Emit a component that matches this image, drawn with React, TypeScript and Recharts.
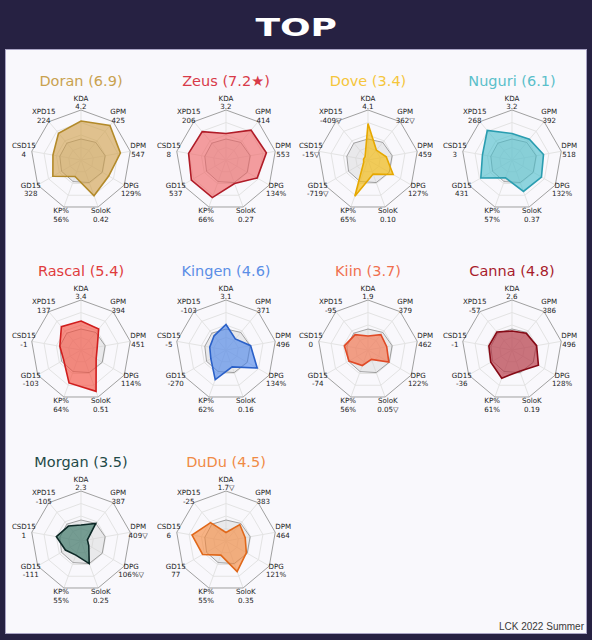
import React from 'react';
import { RadarChart, Radar, PolarGrid, PolarAngleAxis, PolarRadiusAxis } from 'recharts';

// axis order, clockwise from the top
const AXES = ['KDA', 'GPM', 'DPM', 'DPG', 'SoloK', 'KP%', 'GD15', 'CSD15', 'XPD15'];

// league reference polygon (grey)
const AVG = [42, 46, 49, 49, 48, 46, 45, 43, 44];

// normalised scores (0-100) per axis
const DORAN = [78, 90, 80, 64, 76, 35, 65, 57, 70];
const ZEUS = [53, 78, 82, 72, 50, 80, 80, 76, 74];
const DOVE = [73, 26, 37, 58, 30, 77, 10, 9, 9];
const NUGURI = [53, 54, 64, 68, 67, 38, 72, 60, 77];
const RASCAL = [58, 55, 33, 35, 88, 70, 40, 43, 61];
const KINGEN = [51, 29, 50, 72, 36, 63, 35, 33, 37];
const KIIN = [28, 40, 38, 48, 20, 33, 44, 48, 40];
const CANNA = [38, 44, 50, 61, 45, 60, 49, 47, 47];
const MORGAN = [32, 46, 13, 18, 48, 30, 36, 50, 39];
const DUDU = [17, 43, 39, 47, 65, 30, 54, 69, 48];

// printed stat under each axis label
const DORAN_STATS = ['4.2', '425', '547', '129%', '0.42', '56%', '328', '4', '224'];
const ZEUS_STATS = ['3.2', '414', '553', '134%', '0.27', '66%', '537', '8', '206'];
const DOVE_STATS = ['4.1', '362▽', '459', '127%', '0.10', '65%', '-719▽', '-15▽', '-409▽'];
const NUGURI_STATS = ['3.2', '392', '518', '132%', '0.37', '57%', '431', '3', '268'];
const RASCAL_STATS = ['3.4', '394', '451', '114%', '0.51', '64%', '-103', '-1', '137'];
const KINGEN_STATS = ['3.1', '371', '496', '134%', '0.16', '62%', '-270', '-5', '-103'];
const KIIN_STATS = ['1.9', '379', '462', '122%', '0.05▽', '56%', '-74', '0', '-95'];
const CANNA_STATS = ['2.6', '386', '496', '128%', '0.19', '61%', '-36', '-1', '-57'];
const MORGAN_STATS = ['2.3', '387', '409▽', '106%▽', '0.25', '55%', '-111', '1', '-105'];
const DUDU_STATS = ['1.7▽', '383', '464', '121%', '0.35', '55%', '77', '6', '-25'];

const NAMES = ['Doran', 'Zeus', 'Dove', 'Nuguri', 'Rascal', 'Kingen', 'Kiin', 'Canna', 'Morgan', 'DuDu'];
const RATINGS = ['6.9', '7.2★', '3.4', '6.1', '5.4', '4.6', '3.7', '4.8', '3.5', '4.5'];
const SCORES = [DORAN, ZEUS, DOVE, NUGURI, RASCAL, KINGEN, KIIN, CANNA, MORGAN, DUDU];
const STATS = [DORAN_STATS, ZEUS_STATS, DOVE_STATS, NUGURI_STATS, RASCAL_STATS, KINGEN_STATS, KIIN_STATS, CANNA_STATS, MORGAN_STATS, DUDU_STATS];

// title, fill, stroke
const COLORS = [
  ['#c9a24f', '#d1a04a', '#b38a2a'],
  ['#d83a48', '#ef6464', '#b01c28'],
  ['#f5c63c', '#f5b800', '#e6a800'],
  ['#5bbfca', '#4cbfcc', '#2a9db0'],
  ['#e03c3c', '#f54c3a', '#d01e1e'],
  ['#5b8ee6', '#4a84ea', '#2a60c8'],
  ['#f0704f', '#f56e46', '#e04a26'],
  ['#a81c2c', '#b42a38', '#860a16'],
  ['#1f4a48', '#2d6c5c', '#0c2826'],
  ['#f08a45', '#f5883a', '#e0681a'],
];

const COL_X = [81, 226, 368, 512];
const ROW_Y = [160, 350, 541];
const W = 144;
const H = 150;
const R = 50;

const FONT = '"DejaVu Sans", sans-serif';

function AxisTick(props: any) {
  const { x, y, payload, stats } = props;
  const i = AXES.indexOf(payload.value);
  return (
    <text x={x} y={y} textAnchor="middle" fontFamily={FONT} fontSize={7.1} fill="#1e1e1e">
      <tspan x={x} y={y - 1.5}>{payload.value}</tspan>
      <tspan x={x} y={y + 7}>{stats[i]}</tspan>
    </text>
  );
}

function PlayerRadar({ idx }: { idx: number }) {
  const col = idx % 4;
  const row = Math.floor(idx / 4);
  const cx = COL_X[col];
  const cy = ROW_Y[row];
  const [titleColor, fill, stroke] = COLORS[idx];
  const data = AXES.map((axis, i) => ({ axis, avg: AVG[i], value: SCORES[idx][i] }));
  return (
    <>
      <div
        style={{
          position: 'absolute',
          left: cx - W / 2,
          top: cy - 79 - 9,
          width: W,
          lineHeight: '18px',
          textAlign: 'center',
          fontFamily: FONT,
          fontSize: 14.5,
          color: titleColor,
        }}
      >
        {NAMES[idx]} ({RATINGS[idx]})
      </div>
      <div style={{ position: 'absolute', left: cx - W / 2, top: cy - H / 2 }}>
        <RadarChart
          width={W}
          height={H}
          data={data}
          cx={W / 2}
          cy={H / 2}
          outerRadius={R}
          margin={{ top: 0, right: 0, bottom: 0, left: 0 }}
        >
          <PolarGrid gridType="polygon" stroke="#e3e3e3" polarRadius={[R * 0.25, R * 0.5, R * 0.75]} />
          <PolarGrid gridType="polygon" stroke="#a0a0a0" radialLines={false} polarRadius={[R]} />
          <PolarRadiusAxis domain={[0, 100]} tickCount={5} tick={false} axisLine={false} />
          <PolarAngleAxis dataKey="axis" tickLine={false} axisLine={false} tick={<AxisTick stats={STATS[idx]} />} />
          <Radar
            dataKey="avg"
            fill="#d2d2d2"
            fillOpacity={0.4}
            stroke="#8a8a8a"
            strokeWidth={0.8}
            isAnimationActive={false}
          />
          <Radar
            dataKey="value"
            fill={fill}
            fillOpacity={0.62}
            stroke={stroke}
            strokeWidth={1.6}
            isAnimationActive={false}
          />
        </RadarChart>
      </div>
    </>
  );
}

export default function App() {
  return (
    <div style={{ position: 'absolute', left: 0, top: 0, width: 592, height: 640, background: '#262142', overflow: 'hidden' }}>
      <div
        style={{
          position: 'absolute',
          left: 0,
          top: 11,
          width: 592,
          textAlign: 'center',
          fontFamily: FONT,
          fontWeight: 'bold',
          fontSize: 24,
          lineHeight: '34px',
          color: '#ffffff',
        }}
      >
        <span style={{ display: 'inline-block', transform: 'scaleX(1.5)' }}>TOP</span>
      </div>
      <div
        style={{
          position: 'absolute',
          left: 5,
          top: 49,
          width: 582,
          height: 585,
          boxSizing: 'border-box',
          background: '#f9f8fc',
          border: '1px solid #a9a4c4',
        }}
      />
      {NAMES.map((_, i) => (
        <PlayerRadar key={NAMES[i]} idx={i} />
      ))}
      <div
        style={{
          position: 'absolute',
          right: 8,
          top: 621,
          fontFamily: '"Liberation Sans", Arial, sans-serif',
          fontSize: 10,
          color: '#3a3a3a',
        }}
      >
        LCK 2022 Summer
      </div>
    </div>
  );
}
